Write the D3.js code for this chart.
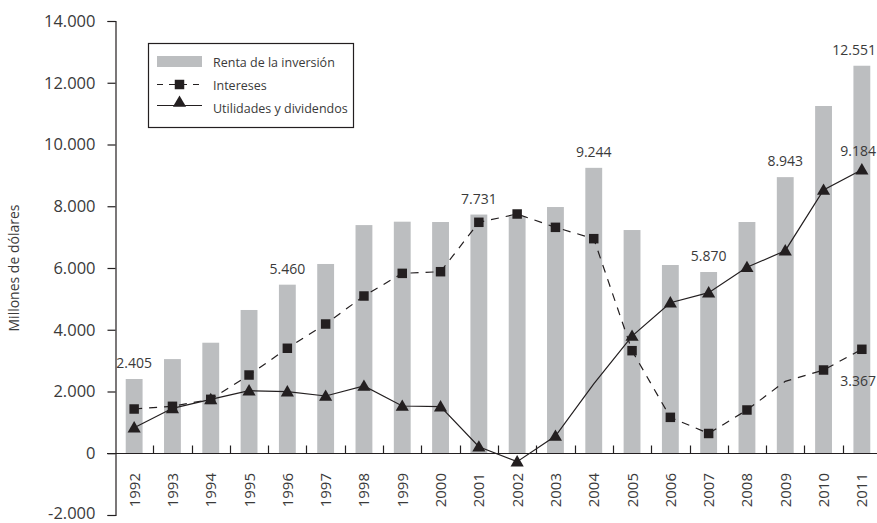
<!DOCTYPE html>
<html>
<head>
<meta charset="utf-8">
<script src="https://cdn.jsdelivr.net/npm/d3@7/dist/d3.min.js"></script>
<style>
  html, body { margin: 0; padding: 0; background: #fff; }
  svg { display: block; font-family: "Open Sans", "Noto Sans", sans-serif; }
</style>
</head>
<body>
<svg id="chart" width="877" height="523"></svg>
<script>
// Renta de la inversión y sus componentes, millones de dólares
const years = ["1992","1993","1994","1995","1996","1997","1998","1999","2000","2001",
               "2002","2003","2004","2005","2006","2007","2008","2009","2010","2011"];
const renta      = [2405, 3050, 3580, 4640, 5460, 6130, 7390, 7500, 7490, 7731,
                    7680, 7975, 9244, 7230, 6097, 5870, 7490, 8943, 11247, 12551];
const intereses  = [1433, 1520, 1746, 2534, 3400, 4186, 5093, 5826, 5880, 7480,
                    7749, 7317, 6950, 3322, 1163, 640, 1401, 2330, 2696, 3367];
const utilidades = [828, 1455, 1746, 2027, 1995, 1854, 2178, 1530, 1508, 210,
                    -273, 559, 2250, 3796, 4876, 5200, 6022, 6561, 8526, 9184];
const yTicks = [-2000, 0, 2000, 4000, 6000, 8000, 10000, 12000, 14000];

// Years whose bar carries a value label
const rentaLabelled = ["1992","1996","2001","2004","2007","2009","2011"];
// Points drawn on the line without a marker symbol
const interesesNoMarker = ["2009"];
const utilidadesNoMarker = ["2004"];

const seriesNames = ["Renta de la inversión", "Intereses", "Utilidades y dividendos"];
const yTitle = "Millones de dólares";

const W = 877, H = 523;
const svg = d3.select("#chart");
const ink = "#231f20";
const textColor = "#3a3a3a";
const barColor = "#bcbec0";

const x = d3.scaleBand().domain(years).range([115, 881]).paddingInner(0.56).paddingOuter(0.28);
const y = d3.scaleLinear().domain([-2000, 14000]).range([515, 21]);
const cx = d => x(d) + x.bandwidth() / 2;
const step = x.step();

const loc = d3.formatLocale({decimal: ",", thousands: ".", grouping: [3], currency: ["", ""], minus: "-"});
const fmt = loc.format(",");

// Bars
svg.append("g").selectAll("rect").data(years).join("rect")
  .attr("x", d => x(d))
  .attr("width", x.bandwidth())
  .attr("y", (d, i) => y(Math.max(0, renta[i])))
  .attr("height", (d, i) => Math.abs(y(renta[i]) - y(0)))
  .attr("fill", barColor);

// Y axis
const yAxis = svg.append("g")
  .attr("transform", "translate(115.5,0)")
  .call(d3.axisLeft(y).tickValues(yTicks).tickSize(8).tickSizeOuter(8).tickPadding(12).tickFormat(fmt));
yAxis.select(".domain").attr("stroke", ink).attr("stroke-width", 1.2);
yAxis.selectAll(".tick line").attr("stroke", ink).attr("stroke-width", 1.2);
yAxis.selectAll(".tick text")
  .attr("fill", textColor).attr("font-size", 16.5).attr("font-family", "'Open Sans', sans-serif")
  .attr("dy", d => d === -2000 ? "0.2em" : "0.32em");

// Zero line with category separators
const zeroY = Math.round(y(0)) + 0.5;
svg.append("line").attr("x1", 107).attr("x2", W).attr("y1", zeroY).attr("y2", zeroY)
  .attr("stroke", ink).attr("stroke-width", 1.2);
svg.append("g").selectAll("line").data(years.slice(0, -1)).join("line")
  .attr("x1", d => Math.round(cx(d) + step / 2) + 0.5)
  .attr("x2", d => Math.round(cx(d) + step / 2) + 0.5)
  .attr("y1", zeroY).attr("y2", zeroY - 8)
  .attr("stroke", ink).attr("stroke-width", 1.2);

// Year labels
svg.append("g").selectAll("text").data(years).join("text")
  .attr("transform", d => `translate(${cx(d) + 5.5},473) rotate(-90)`)
  .attr("text-anchor", "end")
  .attr("font-size", 15)
  .attr("fill", textColor)
  .text(d => d);

// Axis title
svg.append("text")
  .attr("transform", "translate(19,268) rotate(-90)")
  .attr("text-anchor", "middle")
  .attr("font-size", 14)
  .attr("fill", textColor)
  .text(yTitle);

// Lines
const line = d3.line().x(d => cx(d.year)).y(d => y(d.v));
const intData = years.map((yr, i) => ({year: yr, v: intereses[i]}));
const utiData = years.map((yr, i) => ({year: yr, v: utilidades[i]}));

svg.append("path").datum(intData).attr("d", line)
  .attr("fill", "none").attr("stroke", ink).attr("stroke-width", 1.2)
  .attr("stroke-dasharray", "8,7");
svg.append("path").datum(utiData).attr("d", line)
  .attr("fill", "none").attr("stroke", ink).attr("stroke-width", 1.2);

const sq = d3.symbol().type(d3.symbolSquare).size(90);
const tri = d3.symbol().type(d3.symbolTriangle).size(75);

svg.append("g").selectAll("path")
  .data(intData.filter(d => !interesesNoMarker.includes(d.year))).join("path")
  .attr("d", sq).attr("transform", d => `translate(${cx(d.year)},${y(d.v)})`).attr("fill", ink);
svg.append("g").selectAll("path")
  .data(utiData.filter(d => !utilidadesNoMarker.includes(d.year))).join("path")
  .attr("d", tri).attr("transform", d => `translate(${cx(d.year)},${y(d.v) + 1})`).attr("fill", ink);

// Value labels
const labels = svg.append("g").attr("font-size", 14).attr("fill", textColor);
function addLabel(xp, yp, value) {
  const t = labels.append("text").attr("x", xp).attr("y", yp).attr("text-anchor", "middle").text(fmt(value));
  const b = t.node().getBBox();
  if (b.x + b.width > W - 1) t.attr("x", xp - (b.x + b.width - (W - 1)));
  return t;
}
years.forEach((yr, i) => {
  if (rentaLabelled.includes(yr)) addLabel(cx(yr), y(renta[i]) - 11, renta[i]);
});
const last = years.length - 1;
addLabel(cx(years[last]), y(utilidades[last]) - 14, utilidades[last]);
addLabel(cx(years[last]), y(intereses[last]) + 37, intereses[last]);

// Legend
const lg = svg.append("g");
lg.append("rect").attr("x", 148.5).attr("y", 43.5).attr("width", 205).attr("height", 84)
  .attr("fill", "#fff").attr("stroke", ink).attr("stroke-width", 1.2);
lg.append("rect").attr("x", 157).attr("y", 56).attr("width", 45).attr("height", 11).attr("fill", barColor);
lg.append("line").attr("x1", 157).attr("x2", 202).attr("y1", 84.5).attr("y2", 84.5)
  .attr("stroke", ink).attr("stroke-width", 1.2).attr("stroke-dasharray", "6,6");
lg.append("path").attr("d", sq).attr("transform", "translate(179.5,84.5)").attr("fill", ink);
lg.append("line").attr("x1", 157).attr("x2", 202).attr("y1", 105.5).attr("y2", 105.5)
  .attr("stroke", ink).attr("stroke-width", 1.2);
lg.append("path").attr("d", tri).attr("transform", "translate(179.5,103)").attr("fill", ink);
lg.selectAll("text.lab").data(seriesNames).join("text")
  .attr("class", "lab")
  .attr("x", 213)
  .attr("y", (d, i) => [67, 90, 113][i])
  .attr("font-size", 12.5)
  .attr("fill", textColor)
  .text(d => d);
</script>
</body>
</html>
